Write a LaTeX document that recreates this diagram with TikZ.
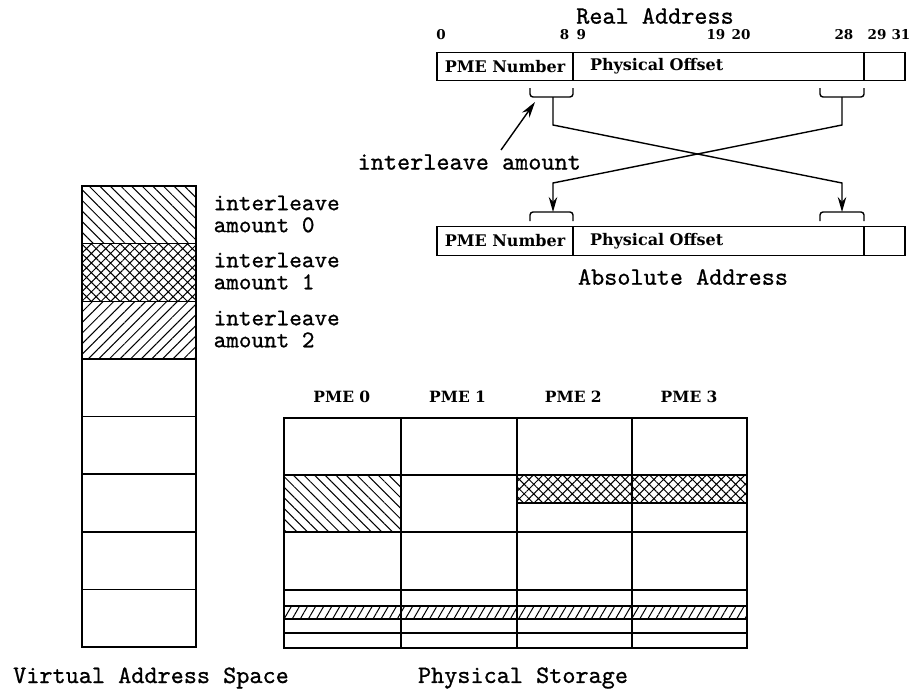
\documentclass[tikz,border=0pt]{standalone}
\usepackage{fontspec}
\usetikzlibrary{arrows.meta,patterns.meta}
\newfontfamily\labelfont{lmmono10-regular.otf}[FakeBold=0.8]
\newfontfamily\fieldfont{DejaVu Serif}

\begin{document}
\begin{tikzpicture}[
  x=1pt, y=-1pt, >={Stealth[length=15pt,width=8.5pt]},
  line width=1.4pt,
  bigtext/.style={font=\labelfont\fontsize{25}{22}\selectfont, inner sep=0pt},
  amounttext/.style={font=\labelfont\fontsize{24}{22}\selectfont, inner sep=0pt, align=left, anchor=west},
  smalltext/.style={font=\fieldfont\bfseries\fontsize{13.5}{16}\selectfont, inner sep=0pt},
  field/.style={draw, minimum height=28.5pt, inner sep=0pt, font=\fieldfont\bfseries\fontsize{16}{18}\selectfont},
  bracket/.style={rounded corners=3pt},
  hatchdown/.style={pattern={Lines[angle=-45,distance=7.5pt,line width=1pt]}},
  hatchcross/.style={pattern={Hatch[angle=45,distance=6.8pt,line width=1pt]}},
  hatchup/.style={pattern={Lines[angle=45,distance=7.5pt,line width=1pt]}},
  hatchstrip/.style={pattern={Lines[angle=60,distance=7pt,line width=1pt]}}
]
  \useasboundingbox (0,0) rectangle (921,691);

  % Real address
  \node[bigtext] (realtitle) at (655,16) {Real Address};
  \node[smalltext] (b0) at (441,35) {0};
  \node[smalltext, anchor=east] (b8) at (570,35) {8};
  \node[smalltext, anchor=west] (b9) at (576,35) {9};
  \node[smalltext, anchor=east] (b19) at (726,35) {19};
  \node[smalltext, anchor=west] (b20) at (731,35) {20};
  \node[smalltext, anchor=east] (b28) at (854,35) {28};
  \node[smalltext, anchor=west] (b29) at (867,35) {29};
  \node[smalltext, anchor=east] (b31) at (911,35) {31};

  \node[field, minimum width=136pt] (rpme) at (505,66.5) {PME Number};
  \node[field, text width=257pt, inner xsep=17pt, align=left] (roff) at (718.5,66.5) {Physical Offset};
  \node[field, minimum width=41pt] (rlow) at (884.5,66.5) {};

  % braces under the real address
  \draw[bracket] (530,88) |- (553,97) -| (573,88);
  \draw[bracket] (820,88) |- (842,97) -| (864,88);
  \coordinate (rpmetip) at (553,97);
  \coordinate (rofftip) at (842,97);

  % interleave amount
  \node[bigtext, anchor=west] (ilabel) at (357,162) {interleave amount};
  \coordinate (iltail) at (501,150);
  \coordinate (ilhead) at (535,102);
  \draw[->, >={Stealth[length=16pt,width=9pt]}] (iltail) -- (ilhead);

  % braces over the absolute address
  \draw[bracket] (530,221) |- (553,212) -| (573,221);
  \draw[bracket] (820,221) |- (842,212) -| (864,221);
  \coordinate (apmetip) at (553,212);
  \coordinate (aofftip) at (842,212);

  % swapped fields
  \draw[->] (rpmetip) -- (553,125) -- (842,183) -- (aofftip);
  \draw[->] (rofftip) -- (842,125) -- (553,183) -- (apmetip);

  % Absolute address
  \node[field, minimum width=136pt] (apme) at (505,241) {PME Number};
  \node[field, text width=257pt, inner xsep=17pt, align=left] (aoff) at (718.5,241) {Physical Offset};
  \node[field, minimum width=41pt] (alow) at (884.5,241) {};
  \node[bigtext] (abstitle) at (683,277) {Absolute Address};

  % Virtual address space
  \fill[hatchdown] (82,186) rectangle (196,243.6);
  \fill[hatchcross] (82,243.6) rectangle (196,301.2);
  \fill[hatchup] (82,301.2) rectangle (196,358.9);
  \draw (82,186) rectangle (196,647);
  \foreach \y in {243.6,301.2,358.9,416.5,474,531.8,589.4}
    \draw (82,\y) -- (196,\y);
  \node[amounttext] (amt0) at (213,214) {interleave\\amount 0};
  \node[amounttext] (amt1) at (213,271) {interleave\\amount 1};
  \node[amounttext] (amt2) at (213,329) {interleave\\amount 2};
  \node[bigtext] (vastitle) at (151,678) {Virtual Address Space};

  % Physical storage
  \foreach \n in {0,...,3}
    \node[smalltext, font=\fieldfont\bfseries\fontsize{15.5}{18}\selectfont] (pme\n) at ({284+115.75*(\n+0.5)},397) {PME \n};
  \fill[hatchdown] (284,475) rectangle (401,532);
  \fill[hatchcross] (517,475) rectangle (747,503);
  \fill[hatchstrip] (284,606) rectangle (747,619);
  \draw (284,418) rectangle (747,648);
  \foreach \x in {401,517,632}
    \draw (\x,418) -- (\x,648);
  \foreach \y in {475,532,590,606,619,633}
    \draw (284,\y) -- (747,\y);
  \draw (517,503) -- (747,503);
  \node[bigtext] (pstitle) at (523,678) {Physical Storage};

\end{tikzpicture}
\end{document}
